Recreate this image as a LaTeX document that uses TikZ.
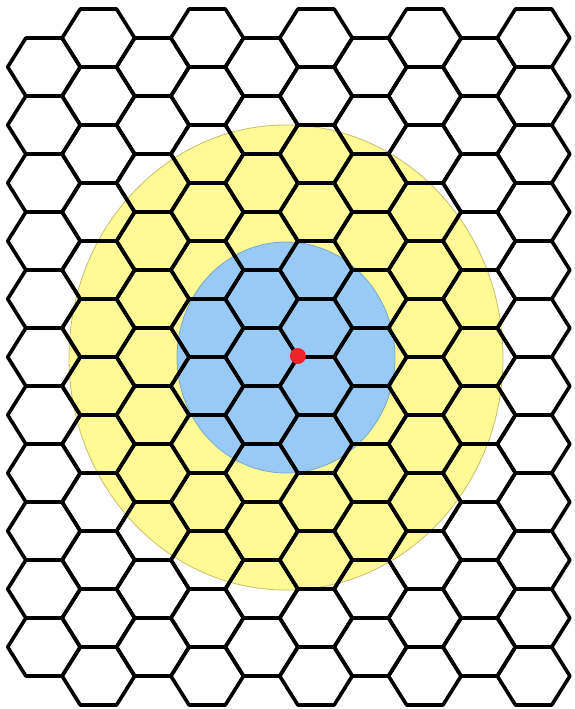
\documentclass[tikz,border=0pt]{standalone}
\definecolor{yellowfill}{RGB}{255,250,150}
\definecolor{yellowline}{RGB}{200,190,110}
\definecolor{bluefill}{RGB}{153,202,245}
\definecolor{blueline}{RGB}{120,170,205}
\definecolor{dotred}{RGB}{240,35,40}
\begin{document}
\begin{tikzpicture}[x=1pt,y=-1pt,
  hexline/.style={line width=3.6pt, line join=round, draw=black},
  zone/.style={line width=0.8pt}]
\useasboundingbox (0,0) rectangle (574,709);
\fill[white] (0,0) rectangle (574,709);
% zones
\filldraw[zone, fill=yellowfill, draw=yellowline] (286,357.5) ellipse [x radius=217, y radius=232.5];
\filldraw[zone, fill=bluefill, draw=blueline] (286,357.5) ellipse [x radius=109, y radius=115.5];
% even columns
\foreach \c in {0,2,...,8}
  \foreach \j in {0,...,10}
    \draw[hexline] ({44+54.4*\c-36.3},{67+58*\j}) -- ++(18.15,-29) -- ++(36.3,0) -- ++(18.15,29) -- ++(-18.15,29) -- ++(-36.3,0) -- cycle;
% odd columns
\foreach \c in {1,3,...,9}
  \foreach \j in {0,...,11}
    \draw[hexline] ({44+54.4*\c-36.3},{38+58*\j}) -- ++(18.15,-29) -- ++(36.3,0) -- ++(18.15,29) -- ++(-18.15,29) -- ++(-36.3,0) -- cycle;
% centre point
\node[circle, fill=dotred, inner sep=0pt, minimum size=16pt] (centre) at (297.9,356) {};
\end{tikzpicture}
\end{document}
